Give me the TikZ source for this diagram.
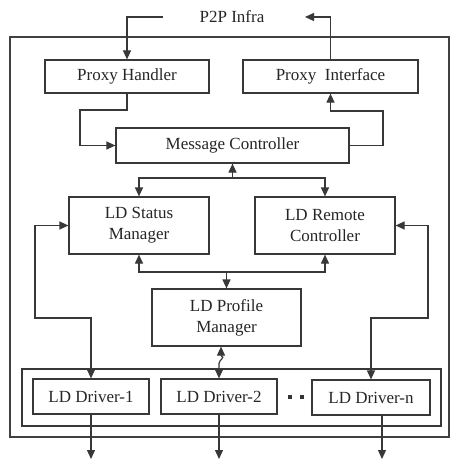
\documentclass[tikz,border=0pt]{standalone}
\usepackage{fontspec}
\setmainfont{Liberation Serif}
\usetikzlibrary{arrows.meta}
\begin{document}
\begin{tikzpicture}[x=1pt,y=-1pt,
  ln/.style={draw=black!78, line width=1.2pt},
  box/.style={ln, rectangle, inner sep=0pt, align=center, text=black!85,
     font=\fontsize{17}{21}\selectfont},
  arr/.style={ln, -{Triangle[length=9pt,width=8pt]}},
  darr/.style={ln, {Triangle[length=9pt,width=8pt]}-{Triangle[length=9pt,width=8pt]}},
  frame/.style={draw=black!75, line width=2pt}]
\useasboundingbox (0,0) rectangle (450,460);
\fill[white] (0,0) rectangle (450,460);
% outer frame
\draw[frame] (10,37) rectangle (449,437);
% driver container
\node[box, line width=1.6pt, minimum width=419pt, minimum height=57pt] (dc) at (231.5,397.5) {};
% text nodes
\node[text=black!85, font=\fontsize{17}{21}\selectfont] (p2p) at (232,17) {P2P Infra};
\node[box, minimum width=164pt, minimum height=33pt] (ph) at (127,76.5) {Proxy Handler};
\node[box, minimum width=175pt, minimum height=33pt] (pi) at (330.5,76.5) {Proxy\ \ Interface};
\node[box, minimum width=233pt, minimum height=35pt] (mc) at (232.5,145.5) {Message Controller};
\node[box, minimum width=140pt, minimum height=57pt] (sm) at (139,225.5) {LD Status\\Manager};
\node[box, minimum width=140pt, minimum height=57pt] (rc) at (325,225.5) {LD Remote\\Controller};
\node[box, minimum width=149pt, minimum height=57pt] (pm) at (226.5,317.5) {LD Profile\\Manager};
\node[box, minimum width=116pt, minimum height=35pt] (d1) at (91,396.5) {LD Driver-1};
\node[box, minimum width=116pt, minimum height=35pt] (d2) at (219,396.5) {LD Driver-2};
\node[box, minimum width=118pt, minimum height=35pt] (dn) at (371,397.5) {LD Driver-n};
% dots
\fill[black!80] (288,395) rectangle (292,399);
\fill[black!80] (300,395) rectangle (304,399);
% coordinates
\coordinate (pL) at (163,17);
\coordinate (pR) at (305,17);
\coordinate (j1) at (232.5,178);
\coordinate (j2) at (226.5,272);
% connectors
\draw[arr] (pL) -| (ph.north);
\draw[arr] (pi.north) |- (pR);
\draw[arr] (ph.south) |- (80,110) |- (mc.west);
\draw[arr] (mc.east) -| (383,111) -| (pi.south);
\draw[arr] (j1) -- (mc.south);
\draw[arr] (j1) -| (sm.north);
\draw[arr] (j1) -| (rc.north);
\draw[arr] (j2) -| (sm.south);
\draw[arr] (j2) -| (rc.south);
\draw[arr] (j2) -- (pm.north);
\draw[darr] (sm.west) -| (35,318) -| (d1.north);
\draw[darr] (rc.east) -| (428,318) -| (dn.north);
\draw[darr] ([xshift=-5.5pt]pm.south) -- ++(0,9) .. controls ++(5,2) and ++(0,-4) .. ++(-2,8) -- (d2.north);
\draw[arr] (d1.south) -- (d1.south |- 0,459);
\draw[arr] (d2.south) -- (d2.south |- 0,459);
\draw[arr] ([xshift=11pt]dn.south) -- ([xshift=11pt]dn.south |- 0,459);
\end{tikzpicture}
\end{document}
